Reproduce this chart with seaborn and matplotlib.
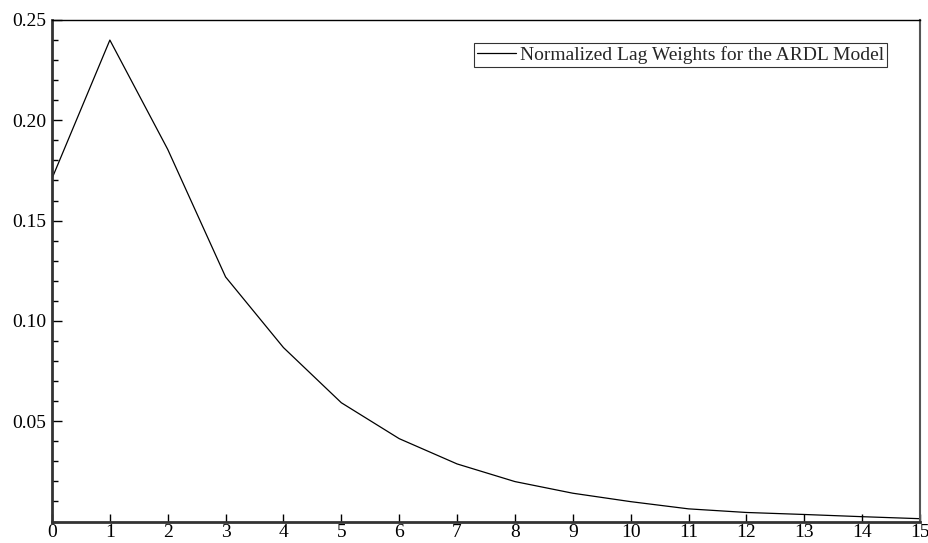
import matplotlib
matplotlib.use("Agg")
import matplotlib.pyplot as plt
import seaborn as sns
import pandas as pd
from matplotlib.ticker import MultipleLocator, FixedLocator

lags = list(range(16))
weights = [0.171, 0.240, 0.1855, 0.1219, 0.0867, 0.0592, 0.0413, 0.0287,
           0.0199, 0.0141, 0.0099, 0.0063, 0.0045, 0.0035, 0.0024, 0.0014]
series_label = "Normalized Lag Weights for the ARDL Model"
ytick_vals = [0.05, 0.10, 0.15, 0.20, 0.25]
ytick_labels = ["0.05", "0.10", "0.15", "0.20", "0.25"]

sns.set_style("white")
plt.rcParams['font.family'] = ['Liberation Serif', 'DejaVu Serif']

df = pd.DataFrame({"lag": lags, "weight": weights, "series": series_label})

fig = plt.figure(figsize=(9.29, 5.43), dpi=100)
ax = fig.add_axes([52/929, 1 - 521.5/543, (920-52)/929, (521.5-20)/543])

sns.lineplot(data=df, x="lag", y="weight", hue="series", palette=["black"],
             linewidth=0.9, ax=ax)

ax.set_xlim(0, 15)
ax.set_ylim(0, 0.25)
ax.set_xticks(lags)
ax.set_xticklabels([str(v) for v in lags])
ax.yaxis.set_major_locator(FixedLocator(ytick_vals))
ax.set_yticklabels(ytick_labels)
ax.yaxis.set_minor_locator(MultipleLocator(0.01))
ax.set_xlabel("")
ax.set_ylabel("")

ax.tick_params(axis='both', which='both', direction='in', labelsize=14, colors='black')
ax.tick_params(axis='y', which='major', length=7, width=1, pad=4, left=True)
ax.tick_params(axis='y', which='minor', length=4, width=1, left=True)
ax.tick_params(axis='x', which='major', length=6, width=1, pad=2, bottom=True)

for side in ['left', 'bottom']:
    ax.spines[side].set_linewidth(2.0)
    ax.spines[side].set_color('#333333')
ax.spines['top'].set_linewidth(1.0)
ax.spines['top'].set_color('black')
ax.spines['right'].set_linewidth(1.5)
ax.spines['right'].set_color('#555555')

leg = ax.legend(loc='upper right', bbox_to_anchor=(1 - 33/868, 1 - 23/501.5),
                fontsize=14, frameon=True, fancybox=False, handlelength=2.0,
                borderpad=0.15, handletextpad=0.2, borderaxespad=0)
leg.get_frame().set_edgecolor('black')
leg.get_frame().set_linewidth(0.8)

fig.savefig("out.png", dpi=100)
